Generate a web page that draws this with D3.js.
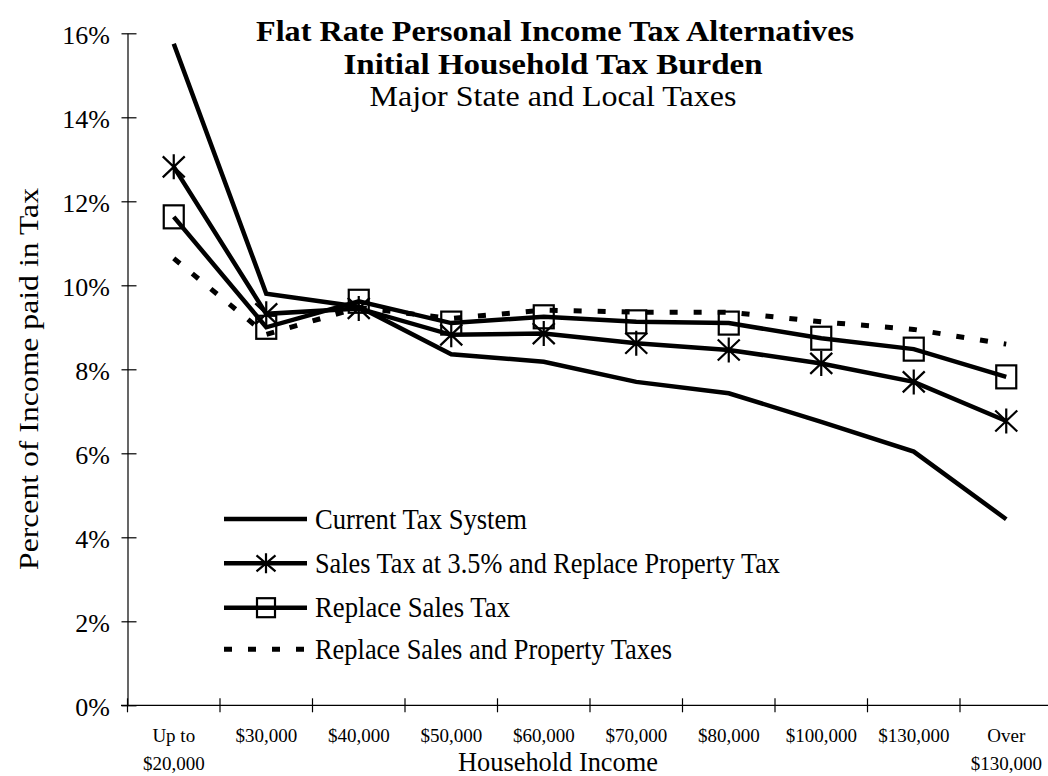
<!DOCTYPE html>
<html>
<head>
<meta charset="utf-8">
<script src="https://cdn.jsdelivr.net/npm/d3@7"></script>
<style>
  html, body { margin: 0; padding: 0; background: #fff; }
  svg { display: block; }
  text { font-family: "Liberation Serif", "Times New Roman", serif; fill: #000; }
</style>
</head>
<body>
<svg id="chart" width="1048" height="776"></svg>
<script>
// ---------- data ----------
const categories = ["Up to $20,000", "$30,000", "$40,000", "$50,000", "$60,000",
                    "$70,000", "$80,000", "$100,000", "$130,000", "Over $130,000"];
const tickLabelLines = [["Up to", "$20,000"], ["$30,000"], ["$40,000"], ["$50,000"], ["$60,000"],
                        ["$70,000"], ["$80,000"], ["$100,000"], ["$130,000"], ["Over", "$130,000"]];
const currentTax      = [15.75, 9.80, 9.49, 8.36, 8.18, 7.70, 7.43, 6.75, 6.04, 4.43];
const salesTax35      = [12.82, 9.32, 9.45, 8.82, 8.85, 8.62, 8.46, 8.14, 7.70, 6.77];
const replaceSales    = [11.63, 9.00, 9.62, 9.10, 9.25, 9.13, 9.10, 8.74, 8.48, 7.82];
const replaceSalesProp= [10.64, 8.83, 9.47, 9.21, 9.41, 9.36, 9.36, 9.13, 8.95, 8.60];
const yTicks = [0, 2, 4, 6, 8, 10, 12, 14, 16];
const seriesNames = ["Current Tax System", "Sales Tax at 3.5% and Replace Property Tax",
                     "Replace Sales Tax", "Replace Sales and Property Taxes"];
const titleLines = ["Flat Rate Personal Income Tax Alternatives", "Initial Household Tax Burden",
                    "Major State and Local Taxes"];

// ---------- layout ----------
const svg = d3.select("#chart");
const x = d3.scaleBand().domain(categories).range([127.5, 1052.5]).paddingInner(0).paddingOuter(0);
const y = d3.scaleLinear().domain([0, 16]).range([705.3, 33.3]);
const cx = c => x(c) + x.bandwidth() / 2;

function fitText(sel, w) {
  sel.attr("textLength", w).attr("lengthAdjust", "spacingAndGlyphs");
  return sel;
}

// ---------- title ----------
const titleSpecs = [
  {t: titleLines[0], cx: 555, by: 41, w: 598, bold: true},
  {t: titleLines[1], cx: 553, by: 74, w: 419, bold: true},
  {t: titleLines[2], cx: 553, by: 106, w: 367, bold: false}
];
titleSpecs.forEach(s => {
  fitText(svg.append("text")
    .attr("x", s.cx - s.w / 2).attr("y", s.by)
    .attr("font-size", 29)
    .attr("font-weight", s.bold ? "bold" : "normal")
    .text(s.t), s.w);
});

// ---------- y axis ----------
const yAxis = svg.append("g").attr("transform", "translate(127.5,0)")
  .call(d3.axisLeft(y).tickValues(yTicks).tickFormat(d => d + "%").tickSizeOuter(0));
yAxis.select(".domain").attr("stroke", "#000").attr("stroke-width", 1.2);
yAxis.selectAll(".tick line").attr("x1", 9).attr("x2", -6).attr("stroke", "#000").attr("stroke-width", 1.2);
yAxis.selectAll(".tick text")
  .attr("x", -17.5).attr("dy", null).attr("y", 10)
  .attr("font-size", 26).attr("font-family", "Liberation Serif").attr("text-anchor", "end");

// ---------- x axis ----------
const xAxisG = svg.append("g");
xAxisG.append("line")
  .attr("x1", 121).attr("x2", 1052.5)
  .attr("y1", y(0)).attr("y2", y(0))
  .attr("stroke", "#000").attr("stroke-width", 1.2);
xAxisG.selectAll("line.xt").data(categories).join("line")
  .attr("class", "xt")
  .attr("x1", d => x(d)).attr("x2", d => x(d))
  .attr("y1", y(0) - 7).attr("y2", y(0) + 7)
  .attr("stroke", "#000").attr("stroke-width", 1.2);
const xl = xAxisG.selectAll("text.xl").data(categories).join("text")
  .attr("class", "xl")
  .attr("text-anchor", "middle")
  .attr("font-size", 19);
xl.each(function(d, i) {
  const t = d3.select(this);
  tickLabelLines[i].forEach((line, j) => {
    t.append("tspan").attr("x", cx(d)).attr("y", 742 + j * 28).text(line);
  });
});

// axis titles
fitText(svg.append("text")
  .attr("x", 458).attr("y", 771)
  .attr("font-size", 27)
  .text("Household Income"), 200);

fitText(svg.append("text")
  .attr("transform", "translate(38,570) rotate(-90)")
  .attr("x", 0).attr("y", 0)
  .attr("font-size", 27)
  .text("Percent of Income paid in Tax"), 382);

// ---------- series ----------
const series = [
  {name: seriesNames[0], values: currentTax, dash: null, marker: null, width: 4.5},
  {name: seriesNames[1], values: salesTax35, dash: null, marker: "star", width: 4.5},
  {name: seriesNames[2], values: replaceSales, dash: null, marker: "square", width: 4.5},
  {name: seriesNames[3], values: replaceSalesProp, dash: "8,16", marker: null, width: 5}
];

const line = d3.line().x((d, i) => cx(categories[i])).y(d => y(d));

function drawMarker(g, type, px, py, w, h) {
  if (type === "star") {
    const p = d3.path();
    p.moveTo(px, py - h / 2); p.lineTo(px, py + h / 2);
    p.moveTo(px - w / 2, py - h / 2 + 2); p.lineTo(px + w / 2, py + h / 2 - 2);
    p.moveTo(px + w / 2, py - h / 2 + 2); p.lineTo(px - w / 2, py + h / 2 - 2);
    g.append("path").attr("d", p.toString()).attr("stroke", "#000").attr("stroke-width", 2.2).attr("fill", "none");
  } else if (type === "square") {
    g.append("rect").attr("x", px - w / 2).attr("y", py - h / 2).attr("width", w).attr("height", h)
      .attr("stroke", "#000").attr("stroke-width", 2.2).attr("fill", "none");
  }
}

const plot = svg.append("g");
series.forEach(s => {
  plot.append("path")
    .datum(s.values)
    .attr("d", line)
    .attr("fill", "none")
    .attr("stroke", "#000")
    .attr("stroke-width", s.width)
    .attr("stroke-linejoin", "miter")
    .attr("stroke-dasharray", s.dash);
});
series.forEach(s => {
  if (!s.marker) return;
  const mg = plot.append("g");
  s.values.forEach((v, i) => drawMarker(mg, s.marker, cx(categories[i]), y(v), s.marker === "star" ? 22 : 20, s.marker === "star" ? 25 : 23));
});

// ---------- legend ----------
const legendY = [519, 563.3, 607.7, 649.3];
const legendW = [212, 465, 195, 357];
const lg = svg.append("g");
series.forEach((s, i) => {
  lg.append("line")
    .attr("x1", 224).attr("x2", 307)
    .attr("y1", legendY[i]).attr("y2", legendY[i])
    .attr("stroke", "#000").attr("stroke-width", s.width)
    .attr("stroke-dasharray", s.dash);
  if (s.marker) drawMarker(lg, s.marker, 266, legendY[i], s.marker === "star" ? 19 : 18, s.marker === "star" ? 20 : 19);
  fitText(lg.append("text")
    .attr("x", 315).attr("y", legendY[i] + 9.5)
    .attr("font-size", 29)
    .text(s.name), legendW[i]);
});
</script>
</body>
</html>
